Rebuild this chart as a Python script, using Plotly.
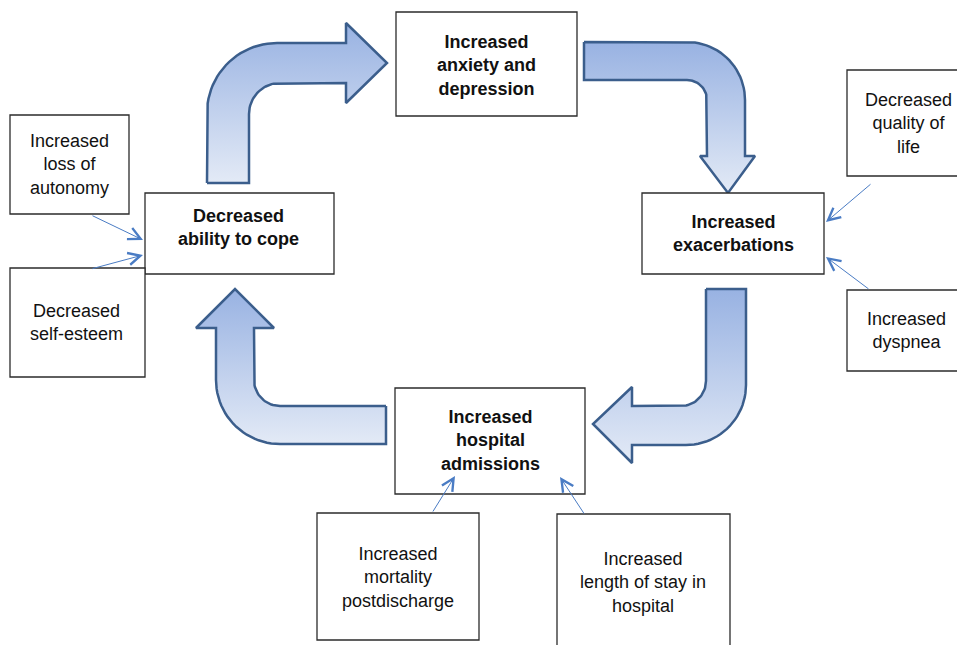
import numpy as np
import plotly.graph_objects as go

# ---- diagram content ----
main_labels = ["Increased<br>anxiety and<br>depression",
               "Increased<br>exacerbations",
               "Increased<br>hospital<br>admissions",
               "Decreased<br>ability to cope"]
side_labels = ["Increased<br>loss of<br>autonomy",
               "Decreased<br>self-esteem",
               "Decreased<br>quality of<br>life",
               "Increased<br>dyspnea",
               "Increased<br>mortality<br>postdischarge",
               "Increased<br>length of stay in<br>hospital"]

# ---- geometry (pixel coords, y measured downward) ----
W, H = 957, 645
main_boxes = [(396, 12, 577, 116), (642, 193, 824, 274),
              (395, 388, 585, 494), (145, 193, 334, 274)]
main_text = [(486, 65), (733, 233), (490, 440), (238, 227)]
side_boxes = [(10, 115, 129, 214), (10, 268, 145, 377),
              (847, 70, 962, 176), (847, 290, 962, 371),
              (317, 513, 479, 640), (557, 514, 730, 650)]
side_text = [(69, 164), (76, 322), (908, 123), (906, 330), (398, 577), (643, 582)]
connectors = [((91, 215), (143, 240)), ((91, 269), (143, 255)),
              ((872, 183), (826, 222)), ((870, 290), (826, 257)),
              ((432, 513), (455, 476)), ((585, 515), (560, 477))]


def Y(py):
    return H - py


def arc(cx, cy, r, a0, a1, n=24):
    t = np.radians(np.linspace(a0, a1, n))
    return list(zip(cx + r * np.cos(t), cy + r * np.sin(t)))


def bent_arrows():
    a1 = [(207, 183)] + arc(277, 113, 70, 180, 270) + [(346, 43), (346, 23), (387, 63),
          (346, 103), (346, 83)] + arc(280, 114, 31, 270, 180) + [(249, 183), (207, 183)]
    a2 = [(584, 42)] + arc(687, 100, 58, 270, 360) + [(745, 156), (755, 156), (728, 193),
          (700, 156), (707, 156)] + arc(687, 100, 20, 360, 270) + [(584, 80), (584, 42)]
    a3 = [(706, 289), (746, 289)] + arc(686, 385, 60, 0, 90) + [(632, 445), (632, 463),
          (593, 424), (632, 387), (632, 406)] + arc(681, 381, 25, 90, 0) + [(706, 289)]
    a4 = [(386, 406), (386, 444)] + arc(280, 380, 64, 90, 180) + [(216, 328), (196, 328),
          (235, 289), (274, 328), (254, 328)] + arc(280, 380, 26, 180, 90) + [(386, 406)]
    return [a1, a2, a3, a4]


fig = go.Figure()

for poly in bent_arrows():
    xs = [p[0] for p in poly]
    ys = [Y(p[1]) for p in poly]
    fig.add_trace(go.Scatter(
        x=xs, y=ys, mode="lines", fill="toself",
        line=dict(color="#3B5E8C", width=2.5),
        fillgradient=dict(type="vertical",
                          colorscale=[[0, "#E3EAF6"], [1, "#98B2E2"]]),
        hoverinfo="skip", showlegend=False))

shapes = []
for (x0, y0, x1, y1) in main_boxes + side_boxes:
    shapes.append(dict(type="rect", xref="x", yref="y", x0=x0, x1=x1,
                       y0=Y(y1), y1=Y(y0), fillcolor="white",
                       line=dict(color="#2b2b2b", width=1.3), layer="above"))

annotations = []
for lab, (tx, ty) in zip(main_labels, main_text):
    annotations.append(dict(x=tx, y=Y(ty), xref="x", yref="y", text="<b>" + lab + "</b>",
                            showarrow=False, font=dict(size=18, color="#111111",
                            family="Liberation Sans, Arial, sans-serif")))
for lab, (tx, ty) in zip(side_labels, side_text):
    annotations.append(dict(x=tx, y=Y(ty), xref="x", yref="y", text=lab,
                            showarrow=False, font=dict(size=18, color="#111111",
                            family="Liberation Sans, Arial, sans-serif")))
for (tail, head) in connectors:
    annotations.append(dict(x=head[0], y=Y(head[1]), ax=tail[0], ay=Y(tail[1]),
                            xref="x", yref="y", axref="x", ayref="y", text="",
                            showarrow=True, arrowhead=5, arrowsize=2.4, arrowwidth=1,
                            arrowcolor="#4A7CC4", standoff=0))

fig.update_layout(
    width=W, height=H, margin=dict(l=0, r=0, t=0, b=0),
    paper_bgcolor="white", plot_bgcolor="white",
    xaxis=dict(range=[0, W], visible=False, fixedrange=True),
    yaxis=dict(range=[0, H], visible=False, fixedrange=True),
    shapes=shapes, annotations=annotations, showlegend=False)

fig.write_html("out.html", config={"displayModeBar": False},
               post_script="document.body.style.margin='0';document.body.style.overflow='hidden';")
